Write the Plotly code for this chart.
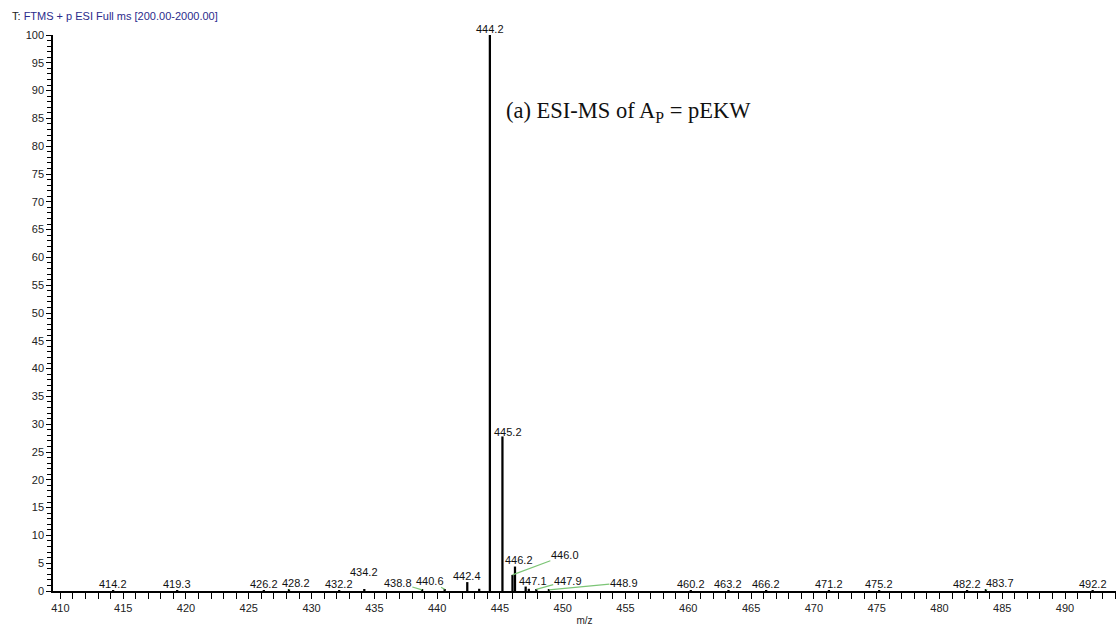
import plotly.graph_objects as go

# ---- data ----
peak_mz = [414.2, 419.3, 426.2, 428.2, 432.2, 434.2, 438.8, 440.6, 442.4, 443.35,
           444.2, 445.2, 446.0, 446.2, 447.05, 447.3, 447.9, 448.9, 460.2, 463.2,
           466.2, 471.2, 475.2, 482.2, 483.7, 492.2]
peak_int = [0.15, 0.15, 0.15, 0.2, 0.15, 0.2, 0.2, 0.3, 1.6, 0.4,
            100.0, 27.8, 2.9, 4.4, 0.8, 0.4, 0.3, 0.2, 0.15, 0.15,
            0.15, 0.15, 0.15, 0.15, 0.2, 0.15]

label_text = ["414.2", "419.3", "426.2", "428.2", "432.2", "434.2", "438.8", "440.6",
              "442.4", "444.2", "445.2", "446.2", "446.0", "447.1", "447.9", "448.9",
              "460.2", "463.2", "466.2", "471.2", "475.2", "482.2", "483.7", "492.2"]
label_peak = [414.2, 419.3, 426.2, 428.2, 432.2, 434.2, 438.8, 440.6,
              442.4, 444.2, 445.2, 446.2, 446.0, 447.05, 447.9, 448.9,
              460.2, 463.2, 466.2, 471.2, 475.2, 482.2, 483.7, 492.2]

# displaced labels (label centre in data units) and whether a leader line is drawn
label_offset = {
    "428.2": (428.74, 1.5, True),
    "434.2": (434.16, 3.5, False),
    "438.8": (436.87, 1.5, True),
    "440.6": (439.42, 1.85, True),
    "445.2": (445.63, 28.6, True),
    "446.2": (446.5, 5.5, False),
    "446.0": (450.17, 6.4, True),
    "447.1": (447.62, 1.85, True),
    "447.9": (450.4, 1.85, True),
    "448.9": (454.87, 1.5, True),
    "483.7": (484.8, 1.5, True),
}

x_ticks = list(range(410, 495, 5))
y_ticks = list(range(0, 101, 5))

X_RANGE = [409.41, 494.06]
Y_RANGE = [0, 100]

fig = go.Figure()
fig.add_trace(go.Bar(x=peak_mz, y=peak_int, width=0.18,
                     marker=dict(color="black", line=dict(width=0)),
                     hoverinfo="x+y", showlegend=False))

annotations = []
intensity_of = dict(zip(peak_mz, peak_int))
lab_font = dict(family="Liberation Sans, Arial, sans-serif", size=11, color="#111111")
for txt, pk in zip(label_text, label_peak):
    h = intensity_of.get(pk, 0.2)
    if txt in label_offset:
        lx, ly, lead = label_offset[txt]
        if lead:
            annotations.append(dict(x=pk, y=h, xref="x", yref="y", ax=lx, ay=ly,
                                    axref="x", ayref="y", text=txt, showarrow=True,
                                    arrowhead=0, arrowwidth=1.2, arrowcolor="#7cc576",
                                    standoff=0, font=lab_font, borderpad=0))
        else:
            annotations.append(dict(x=lx, y=ly, xref="x", yref="y", text=txt,
                                    showarrow=False, font=lab_font, borderpad=0))
    else:
        annotations.append(dict(x=pk, y=h, xref="x", yref="y", text=txt,
                                showarrow=False, yanchor="bottom", font=lab_font,
                                borderpad=0, yshift=-1))

annotations.append(dict(x=455.23, y=86.2, xref="x", yref="y",
                        text="(a) ESI-MS of A<sub>P</sub> = pEKW", showarrow=False,
                        font=dict(family="Liberation Serif, Times New Roman, serif",
                                  size=22.5, color="#111111")))
annotations.append(dict(x=-0.0407, y=1.034, xref="paper", yref="paper",
                        xanchor="left", yanchor="middle", showarrow=False,
                        text="T: <span style='color:#2b2b8c'>FTMS + p ESI Full ms [200.00-2000.00]</span>",
                        font=dict(family="Liberation Sans, Arial, sans-serif", size=11,
                                  color="#222222")))

fig.update_layout(
    width=1120, height=629,
    margin=dict(l=53, r=4, t=35, b=36),
    paper_bgcolor="white", plot_bgcolor="white",
    annotations=annotations,
    showlegend=False,
    xaxis=dict(range=X_RANGE, tickvals=x_ticks, ticktext=[str(v) for v in x_ticks],
               showgrid=False, zeroline=False, showline=True, linecolor="black",
               linewidth=1.5, ticks="outside", ticklen=6, tickwidth=1.2,
               tickcolor="black",
               minor=dict(dtick=1, tick0=410, ticks="outside", ticklen=6,
                          tickwidth=1.2, tickcolor="black", showgrid=False),
               tickfont=dict(family="Liberation Sans, Arial, sans-serif", size=11,
                             color="#222222"),
               title=dict(text="m/z", standoff=4,
                          font=dict(family="Liberation Sans, Arial, sans-serif",
                                    size=10, color="#222222"))),
    yaxis=dict(range=Y_RANGE, tickvals=y_ticks, ticktext=[str(v) for v in y_ticks],
               showgrid=False, zeroline=False, showline=True, linecolor="black",
               linewidth=1.5, ticks="outside", ticklen=5, tickwidth=1.2,
               tickcolor="black",
               minor=dict(dtick=1, tick0=0, ticks="outside", ticklen=4,
                          tickwidth=1, tickcolor="black", showgrid=False),
               tickfont=dict(family="Liberation Sans, Arial, sans-serif", size=11,
                             color="#222222")),
)

fig.write_html("out.html")
